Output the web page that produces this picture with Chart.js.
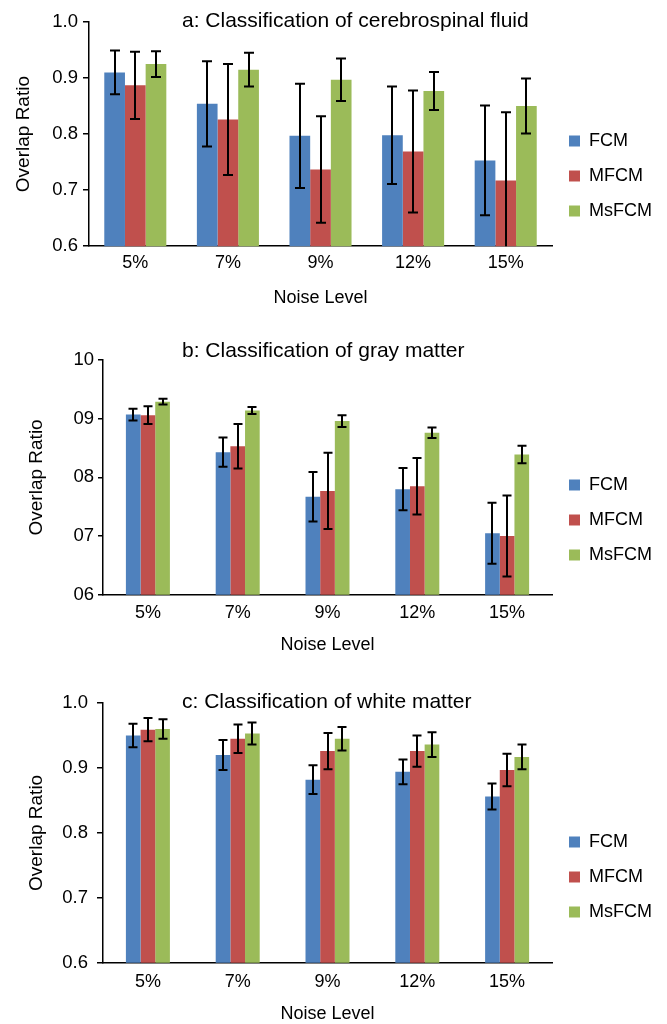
<!DOCTYPE html>
<html>
<head>
<meta charset="utf-8">
<script src="https://cdn.jsdelivr.net/npm/chart.js@4/dist/chart.umd.min.js"></script>
<style>
  html, body { margin: 0; padding: 0; background: #fff; overflow: hidden; }
  canvas { position: absolute; left: 0; }
</style>
</head>
<body>
<canvas id="chart-a" width="667" height="330" style="top:0px"></canvas>
<canvas id="chart-b" width="667" height="350" style="top:330px"></canvas>
<canvas id="chart-c" width="667" height="391" style="top:660px"></canvas>
<script>
// Overlap ratio per noise level, three tissue classes (mean and std-dev)
const noiseLevels = ['5%', '7%', '9%', '12%', '15%'];
const methods = ['FCM', 'MFCM', 'MsFCM'];
const methodColors = ['#4F81BD', '#C0504D', '#9BBB59'];

// a: cerebrospinal fluid
const csfFcm = [0.910, 0.854, 0.797, 0.798, 0.753];
const csfFcmErr = [0.039, 0.076, 0.093, 0.087, 0.098];
const csfMfcm = [0.887, 0.826, 0.737, 0.769, 0.717];
const csfMfcmErr = [0.060, 0.099, 0.095, 0.109, 0.122];
const csfMsfcm = [0.925, 0.915, 0.897, 0.877, 0.850];
const csfMsfcmErr = [0.023, 0.030, 0.038, 0.034, 0.049];
const csfTicks = ['0.6', '0.7', '0.8', '0.9', '1.0'];

// b: gray matter
const gmFcm = [0.907, 0.843, 0.767, 0.780, 0.705];
const gmFcmErr = [0.010, 0.025, 0.042, 0.036, 0.052];
const gmMfcm = [0.906, 0.853, 0.777, 0.785, 0.700];
const gmMfcmErr = [0.015, 0.038, 0.065, 0.048, 0.069];
const gmMsfcm = [0.929, 0.914, 0.896, 0.876, 0.839];
const gmMsfcmErr = [0.005, 0.006, 0.010, 0.009, 0.015];
const gmTicks = ['06', '07', '08', '09', '10'];

// c: white matter
const wmFcm = [0.950, 0.920, 0.882, 0.894, 0.856];
const wmFcmErr = [0.018, 0.023, 0.022, 0.019, 0.020];
const wmMfcm = [0.959, 0.945, 0.926, 0.926, 0.897];
const wmMfcmErr = [0.018, 0.022, 0.028, 0.024, 0.025];
const wmMsfcm = [0.960, 0.953, 0.945, 0.936, 0.917];
const wmMsfcmErr = [0.015, 0.017, 0.018, 0.019, 0.019];
const wmTicks = ['0.6', '0.7', '0.8', '0.9', '1.0'];

Chart.defaults.font.family = '"Liberation Sans", Arial, sans-serif';
Chart.defaults.color = '#000';

// Draws the std-dev whiskers on top of each bar
const errorBarPlugin = {
  id: 'errorBars',
  afterDatasetsDraw(chart, args, opts) {
    const { ctx, chartArea } = chart;
    const yScale = chart.scales.y;
    ctx.save();
    ctx.beginPath();
    ctx.rect(chartArea.left, chartArea.top - 40, chartArea.right - chartArea.left, chartArea.bottom - chartArea.top + 40);
    ctx.clip();
    ctx.strokeStyle = '#000';
    ctx.lineWidth = 2;
    chart.data.datasets.forEach((ds, di) => {
      const meta = chart.getDatasetMeta(di);
      meta.data.forEach((bar, i) => {
        const v = ds.data[i];
        const e = ds.errors[i];
        const yTop = yScale.getPixelForValue(v + e);
        const yBot = yScale.getPixelForValue(v - e);
        const x = Math.round(bar.x);
        const half = opts.cap;
        ctx.beginPath();
        ctx.moveTo(x, yTop);
        ctx.lineTo(x, yBot);
        ctx.moveTo(x - half, yTop);
        ctx.lineTo(x + half, yTop);
        ctx.moveTo(x - half, yBot);
        ctx.lineTo(x + half, yBot);
        ctx.stroke();
      });
    });
    ctx.restore();
  }
};

// Title text sits inside the plot, left-aligned like the original
const insideTitlePlugin = {
  id: 'insideTitle',
  afterDraw(chart, args, opts) {
    const ctx = chart.ctx;
    ctx.save();
    ctx.font = '21px "Liberation Sans", Arial, sans-serif';
    ctx.fillStyle = '#000';
    ctx.textAlign = 'left';
    ctx.textBaseline = 'middle';
    ctx.fillText(opts.text, opts.x, opts.y);
    ctx.restore();
  }
};

function buildChart(id, cfg) {
  const series = [cfg.fcm, cfg.mfcm, cfg.msfcm];
  const errs = [cfg.fcmErr, cfg.mfcmErr, cfg.msfcmErr];
  const datasets = methods.map((m, k) => ({
    label: m,
    data: series[k],
    errors: errs[k],
    backgroundColor: methodColors[k],
    borderWidth: 0,
    categoryPercentage: cfg.groupWidth,
    barPercentage: 1.0
  }));

  return new Chart(document.getElementById(id), {
    type: 'bar',
    data: { labels: noiseLevels, datasets: datasets },
    plugins: [errorBarPlugin, insideTitlePlugin],
    options: {
      responsive: false,
      animation: false,
      layout: { padding: { top: cfg.padTop, right: 5, bottom: 0, left: 0 } },
      plugins: {
        legend: {
          position: 'right',
          align: 'center',
          labels: {
            boxWidth: 11,
            boxHeight: 11,
            padding: 17,
            font: { size: 18 },
            color: '#000'
          }
        },
        tooltip: { enabled: false },
        errorBars: { cap: cfg.cap },
        insideTitle: { text: cfg.title, x: 182, y: cfg.titleY }
      },
      scales: {
        x: {
          grid: { display: false, drawTicks: false },
          border: { display: true, color: '#000', width: 1.5 },
          ticks: { font: { size: 18 }, color: '#000', padding: cfg.xLabelPad },
          title: {
            display: true,
            text: 'Noise Level',
            font: { size: 18 },
            color: '#000',
            padding: { top: cfg.xTitleTop, bottom: cfg.xTitleBottom }
          }
        },
        y: {
          min: 0.6,
          max: 1.0,
          afterFit: (scale) => { scale.width = cfg.axisX; },
          grid: {
            display: true,
            drawOnChartArea: false,
            drawTicks: true,
            tickLength: cfg.tickLen,
            color: '#000',
            lineWidth: 1.5
          },
          border: { display: true, color: '#000', width: 1.5 },
          ticks: {
            stepSize: 0.1,
            font: { size: 18.5 },
            color: '#000',
            padding: cfg.yLabelPad,
            callback: (value, index) => cfg.ticks[index]
          },
          title: {
            display: true,
            text: 'Overlap Ratio',
            font: { size: 19 },
            color: '#000',
            padding: { top: cfg.yTitleTop, bottom: 0 }
          }
        }
      }
    }
  });
}

buildChart('chart-a', {
  title: 'a: Classification of cerebrospinal fluid', titleY: 21,
  fcm: csfFcm, fcmErr: csfFcmErr, mfcm: csfMfcm, mfcmErr: csfMfcmErr,
  msfcm: csfMsfcm, msfcmErr: csfMsfcmErr, ticks: csfTicks,
  groupWidth: 0.67, cap: 5, padTop: 22, axisX: 89, tickLen: 6, yLabelPad: 5,
  yTitleTop: 12, xLabelPad: 6, xTitleTop: 7.4, xTitleBottom: 21.2
});

buildChart('chart-b', {
  title: 'b: Classification of gray matter', titleY: 21,
  fcm: gmFcm, fcmErr: gmFcmErr, mfcm: gmMfcm, mfcmErr: gmMfcmErr,
  msfcm: gmMsfcm, msfcmErr: gmMsfcmErr, ticks: gmTicks,
  groupWidth: 0.49, cap: 4.5, padTop: 30, axisX: 103, tickLen: 5, yLabelPad: 4,
  yTitleTop: 25, xLabelPad: 7.2, xTitleTop: 3.4, xTitleBottom: 24.2
});

buildChart('chart-c', {
  title: 'c: Classification of white matter', titleY: 42,
  fcm: wmFcm, fcmErr: wmFcmErr, mfcm: wmMfcm, mfcmErr: wmMfcmErr,
  msfcm: wmMsfcm, msfcmErr: wmMsfcmErr, ticks: wmTicks,
  groupWidth: 0.49, cap: 4.5, padTop: 43, axisX: 103, tickLen: 6, yLabelPad: 9,
  yTitleTop: 25, xLabelPad: 8.2, xTitleTop: 2.4, xTitleBottom: 26.2
});
</script>
</body>
</html>
